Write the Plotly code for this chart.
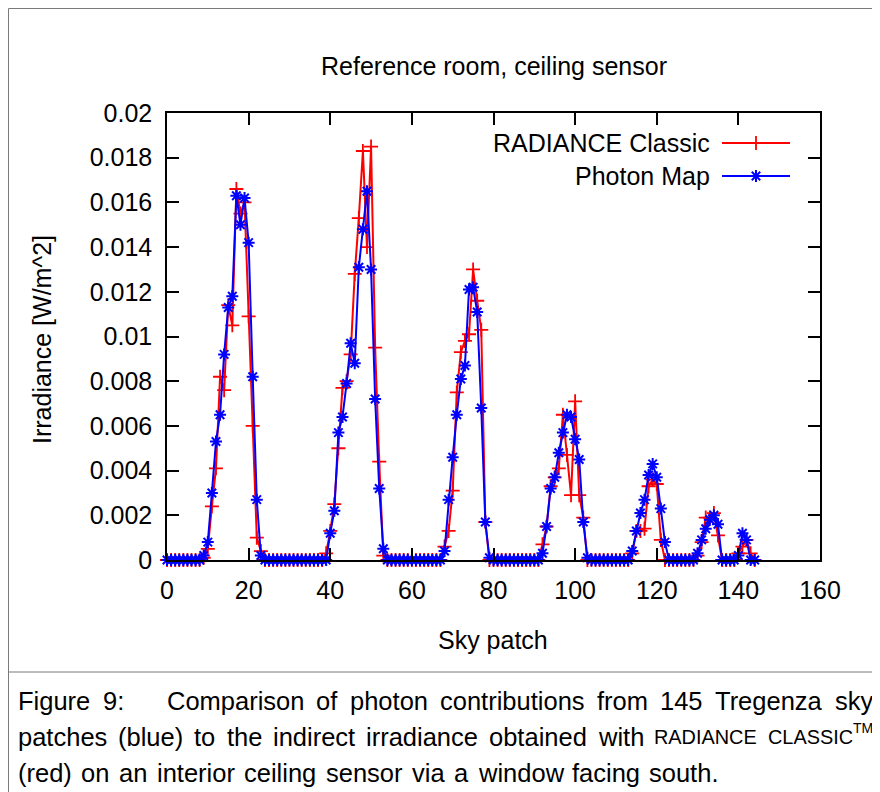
import plotly.graph_objects as go

# ---------------- data ----------------
sky_patch = list(range(145))

radiance_classic = [
    0, 0, 0, 0, 0, 0, 0, 0, 0, 0.0001,
    0.0005, 0.0024, 0.0041, 0.0082, 0.0076, 0.0114, 0.0105, 0.0166, 0.0155, 0.0160,
    0.0109, 0.0060, 0.0010, 0.0004, 0, 0, 0, 0, 0, 0,
    0, 0, 0, 0, 0, 0, 0, 0, 0, 0.0003,
    0.0013, 0.0025, 0.0050, 0.0077, 0.0080, 0.0092, 0.0128, 0.0153, 0.0183, 0.0140,
    0.0185, 0.0095, 0.0044, 0.0002, 0, 0, 0, 0, 0, 0,
    0, 0, 0, 0, 0, 0, 0, 0, 0.0006, 0.0013,
    0.0031, 0.0075, 0.0093, 0.0098, 0.0101, 0.0130, 0.0116, 0.0103, 0.0017, 0,
    0, 0, 0, 0, 0, 0, 0, 0, 0, 0,
    0, 0, 0.0007, 0.0015, 0.0033, 0.0037, 0.0041, 0.0065, 0.0047, 0.0029,
    0.0071, 0.0029, 0.0019, 0, 0, 0, 0, 0, 0, 0,
    0, 0, 0, 0, 0.0003, 0.0013, 0.0013, 0.0014, 0.0033, 0.0036,
    0.0034, 0.0009, 0, 0, 0, 0, 0, 0, 0, 0,
    0.0002, 0.0008, 0.0019, 0.0019, 0.0021, 0.0011, 0, 0, 0, 0,
    0.0003, 0.0006, 0.0009, 0.0003, 0,
]

photon_map = [
    0, 0, 0, 0, 0, 0, 0, 0, 0, 0.0002,
    0.0008, 0.0030, 0.0053, 0.0065, 0.0092, 0.0113, 0.0118, 0.0163, 0.0150, 0.0162,
    0.0142, 0.0082, 0.0027, 0.0002, 0, 0, 0, 0, 0, 0,
    0, 0, 0, 0, 0, 0, 0, 0, 0, 0,
    0.0012, 0.0022, 0.0057, 0.0064, 0.0079, 0.0097, 0.0088, 0.0131, 0.0148, 0.0165,
    0.0130, 0.0072, 0.0032, 0.0005, 0, 0, 0, 0, 0, 0,
    0, 0, 0, 0, 0, 0, 0, 0, 0.0004, 0.0027,
    0.0046, 0.0065, 0.0081, 0.0087, 0.0121, 0.0122, 0.0111, 0.0068, 0.0017, 0.0001,
    0, 0, 0, 0, 0, 0, 0, 0, 0, 0,
    0, 0, 0.0003, 0.0015, 0.0032, 0.0037, 0.0048, 0.0057, 0.0065, 0.0064,
    0.0054, 0.0045, 0.0017, 0.0001, 0, 0, 0, 0, 0, 0,
    0, 0, 0, 0, 0.0004, 0.0013, 0.0021, 0.0027, 0.0038, 0.0043,
    0.0037, 0.0023, 0.0008, 0, 0, 0, 0, 0, 0, 0,
    0.0003, 0.0009, 0.0014, 0.0018, 0.0020, 0.0016, 0, 0, 0, 0,
    0.0002, 0.0012, 0.0009, 0, 0,
]

x_tick_values = [0, 20, 40, 60, 80, 100, 120, 140, 160]
y_tick_values = [0, 0.002, 0.004, 0.006, 0.008, 0.01, 0.012, 0.014, 0.016, 0.018, 0.02]
y_tick_labels = ["0", "0.002", "0.004", "0.006", "0.008", "0.01",
                 "0.012", "0.014", "0.016", "0.018", "0.02"]
series_names = ["RADIANCE Classic", "Photon Map"]
chart_title = "Reference room, ceiling sensor"
x_title = "Sky patch"
y_title = "Irradiance [W/m^2]"

caption_lines = [
    ["Figure", "9:", "Comparison", "of", "photon", "contributions", "from", "145",
     "Tregenza", "sky"],
    ["patches", "(blue)", "to", "the", "indirect", "irradiance", "obtained", "with",
     "RADIANCE", "CLASSIC"],
    ["(red)", "on", "an", "interior", "ceiling", "sensor", "via", "a", "window",
     "facing", "south."],
]
small_caps_words = {"RADIANCE", "CLASSIC"}
trademark_after = "CLASSIC"

# ---------------- geometry / style ----------------
# page coordinates (browser window); the page body has an 8px margin
PAGE_W, PAGE_H = 880, 792
OFF = 8
W_FIG, H_FIG = PAGE_W - OFF, PAGE_H - OFF
L, R, T, B = 167, 820, 113, 560          # plot area in page pixels
PW, PH = R - L, B - T
FONT = "Liberation Sans, Arial, Helvetica, sans-serif"
RED, BLUE = "#ff0000", "#0000ff"
TXT = 25


def px(xp):
    return (xp - L) / PW


def py(yp):
    return (B - yp) / PH


AW = {' ': 278, '(': 333, ')': 333, '.': 278, ',': 278, ':': 278, '/': 278,
      '[': 278, ']': 278, '^': 469}
for d in "0123456789":
    AW[d] = 556
AW.update(dict(A=667, B=667, C=722, D=722, E=667, F=611, G=778, H=722, I=278, J=500,
               K=667, L=556, M=833, N=722, O=778, P=667, Q=778, R=722, S=667, T=611,
               U=722, V=667, W=944, X=667, Y=667, Z=611))
AW.update(dict(a=556, b=556, c=500, d=556, e=556, f=278, g=556, h=556, i=222, j=222,
               k=500, l=222, m=833, n=556, o=556, p=556, q=556, r=333, s=500, t=278,
               u=556, v=500, w=722, x=500, y=500, z=500))


def text_w(s, size):
    return sum(AW.get(ch, 556) for ch in s) * size / 1000.0


fig = go.Figure()

red_marker = dict(symbol="cross-thin-open", size=10, line=dict(color=RED, width=1.8), color=RED)
blue_marker = dict(symbol="asterisk-open", size=10, line=dict(color=BLUE, width=2), color=BLUE)

fig.add_trace(go.Scatter(x=sky_patch, y=radiance_classic, mode="lines+markers",
                         name=series_names[0], line=dict(color=RED, width=2),
                         marker=red_marker, cliponaxis=False))
fig.add_trace(go.Scatter(x=sky_patch, y=photon_map, mode="lines+markers",
                         name=series_names[1], line=dict(color=BLUE, width=2),
                         marker=blue_marker, cliponaxis=False))

# legend samples (gnuplot style: text right-justified, sample on the right)
legend_rows = [(143, RED, red_marker), (176, BLUE, blue_marker)]
shapes = []
annotations = []
for (ly, col, mk), name in zip(legend_rows, series_names):
    shapes.append(dict(type="line", xref="paper", yref="paper", x0=px(722), x1=px(790),
                       y0=py(ly), y1=py(ly), line=dict(color=col, width=2)))
    fig.add_trace(go.Scatter(x=[px(756)], y=[py(ly)], xaxis="x2", yaxis="y2",
                             mode="markers", marker=mk, showlegend=False,
                             cliponaxis=False, hoverinfo="skip"))
    annotations.append(dict(text=name, xref="paper", yref="paper", x=px(710), y=py(ly),
                            xanchor="right", yanchor="middle", showarrow=False,
                            font=dict(size=TXT, family=FONT, color="black"),
                            borderpad=0, borderwidth=0))

# titles
annotations.append(dict(text=chart_title, xref="paper", yref="paper", x=px(494), y=py(66),
                        xanchor="center", yanchor="middle", showarrow=False,
                        font=dict(size=TXT, family=FONT, color="black")))
annotations.append(dict(text=x_title, xref="paper", yref="paper", x=px(493), y=py(640),
                        xanchor="center", yanchor="middle", showarrow=False,
                        font=dict(size=TXT, family=FONT, color="black")))
annotations.append(dict(text=y_title, xref="paper", yref="paper", x=px(42), y=py(339),
                        xanchor="center", yanchor="middle", showarrow=False, textangle=-90,
                        font=dict(size=TXT, family=FONT, color="black")))

# caption (justified lines)
CAP = 25.5
SC = 0.78
TMS = 0.55
cap_x0, cap_x1 = 18, 873
cap_y = [701, 737, 773]
for li, (words, yc) in enumerate(zip(caption_lines, cap_y)):
    sizes = [CAP * SC if w in small_caps_words else CAP for w in words]
    widths = [text_w(w, s) for w, s in zip(words, sizes)]
    extra = [text_w("TM", CAP * TMS) if w == trademark_after else 0 for w in words]
    weights = [3.5 if (li == 0 and k == 1) else 1.0 for k in range(len(words) - 1)]
    if li < 2:
        gap = (cap_x1 - cap_x0 - sum(widths) - sum(extra)) / sum(weights)
    else:
        gap = CAP * 0.37
    xcur = cap_x0
    for k, (w, s, wd, ex) in enumerate(zip(words, sizes, widths, extra)):
        annotations.append(dict(text=w, xref="paper", yref="paper", x=px(xcur), y=py(yc),
                                xanchor="left", yanchor="middle", showarrow=False,
                                font=dict(size=s, family=FONT, color="black"),
                                borderpad=0, borderwidth=0))
        if ex:
            annotations.append(dict(text="TM", xref="paper", yref="paper",
                                    x=px(xcur + wd + 0.5), y=py(yc - 9),
                                    xanchor="left", yanchor="middle", showarrow=False,
                                    font=dict(size=CAP * TMS, family=FONT, color="black"),
                                    borderpad=0, borderwidth=0))
        if k < len(words) - 1:
            xcur += wd + ex + gap * weights[k]

# frame lines around figure and caption
FR = "#7a7a7a"
for (x0, y0, x1, y1) in [(8.5, 8.5, 877, 8.5), (8.5, 8.5, 8.5, 792), (877, 8.5, 877, 792),
                         (8.5, 672, 877, 672)]:
    shapes.append(dict(type="line", xref="paper", yref="paper", x0=px(x0), x1=px(x1),
                       y0=py(y0), y1=py(y1), line=dict(color=FR, width=1)))

axis_common = dict(ticks="inside", ticklen=12, tickwidth=1.5, tickcolor="black",
                   showline=True, linecolor="black", linewidth=1.5, mirror="ticks",
                   showgrid=False, zeroline=False, automargin=False,
                   tickfont=dict(size=TXT, family=FONT, color="black"))

fig.update_layout(
    width=W_FIG, height=H_FIG,
    margin=dict(l=L - OFF, r=W_FIG - (R - OFF), t=T - OFF, b=H_FIG - (B - OFF),
                autoexpand=False),
    paper_bgcolor="white", plot_bgcolor="white", showlegend=False,
    font=dict(family=FONT, size=TXT, color="black"),
    xaxis=dict(range=[0, 160], tickvals=x_tick_values, ticklabelstandoff=7, **axis_common),
    yaxis=dict(range=[0, 0.02], tickvals=y_tick_values, ticktext=y_tick_labels,
               ticklabelstandoff=8, **axis_common),
    xaxis2=dict(overlaying="x", range=[0, 1], visible=False, fixedrange=True),
    yaxis2=dict(overlaying="y", range=[0, 1], visible=False, fixedrange=True),
    shapes=shapes, annotations=annotations,
)

fig.write_html("out.html")
